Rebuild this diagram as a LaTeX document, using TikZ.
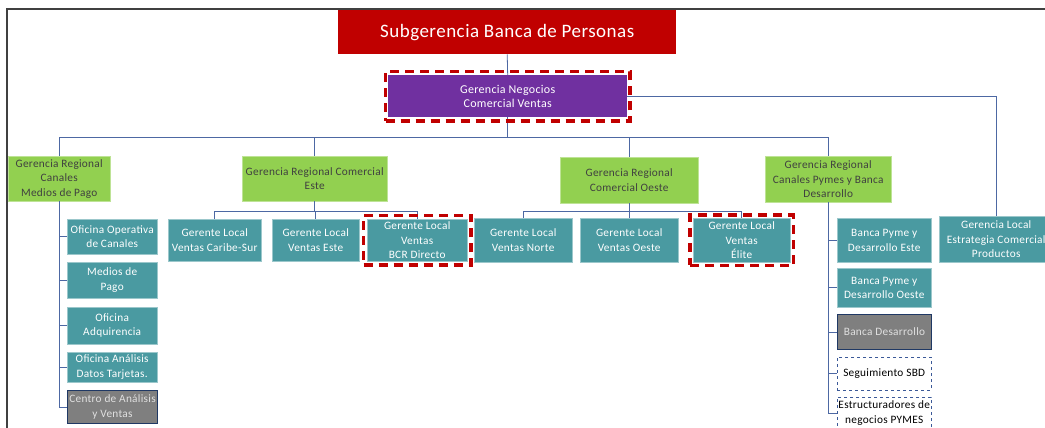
\documentclass[tikz,border=0pt]{standalone}
\usepackage{fontspec}
\setmainfont{Carlito}[LetterSpace=2.5]
\usetikzlibrary{positioning, fit}
\definecolor{bcrred}{HTML}{C00000}
\definecolor{bcrpurple}{HTML}{7030A0}
\definecolor{bcrgreen}{HTML}{92D050}
\definecolor{bcrteal}{HTML}{4A9AA1}
\definecolor{bcrgrey}{HTML}{7F7F7F}
\definecolor{bcrnavy}{HTML}{1F3864}
\definecolor{bcrblue}{HTML}{3B5998}
\definecolor{bcrline}{HTML}{4D68A3}
\definecolor{bcrtext}{HTML}{404040}

\begin{document}
\begin{tikzpicture}[x=1pt,y=-1pt]
\tikzset{
box/.style={rectangle, inner sep=0pt, anchor=north west, align=center, font=\fontsize{11.3}{14.5}\selectfont}, % base style of every box
boxsize/.style 2 args={minimum width=#1pt, minimum height=#2pt}, % width and height in px
titlebox/.style={box, fill=bcrred, text=white, font=\fontsize{19}{22}\selectfont},
headbox/.style={box, fill=bcrpurple, text=white, font=\fontsize{12}{14.5}\selectfont},
regbox/.style={box, fill=bcrgreen, draw=bcrgreen!60!white, text=bcrtext}, % regional managers
localbox/.style={box, fill=bcrteal, draw=bcrteal!55!white, text=white}, % local managers and offices
greybox/.style={box, fill=bcrgrey, draw=bcrnavy, line width=1pt, text=white!88!black},
openbox/.style={box, fill=white, draw=bcrblue, dashed, text=black},
hilite/.style={draw=bcrred, line width=3.5pt, dash pattern=on 9pt off 6pt, inner sep=0pt}, % red dashed frame
conn/.style={draw=bcrline, line width=0.8pt},
frame/.style={draw=black!75, line width=1.2pt},
}
\useasboundingbox (0,0) rectangle (1045,428);
\draw[frame] (7,428) -- (7,9) -- (1045,9);

% top
\node[titlebox, boxsize={338}{44}] (subg) at (338,10) {Subgerencia Banca de Personas};
\node[headbox, boxsize={239}{42}] (gnc) at (388,75) {Gerencia Negocios\\Comercial Ventas};

% regional level
\node[regbox, boxsize={102}{45}] (g1) at (8,156) {Gerencia Regional\\Canales\\Medios de Pago};
\node[regbox, boxsize={145}{45}] (g2) at (242,156) {Gerencia Regional Comercial\\Este};
\node[regbox, boxsize={138}{46}] (g3) at (560,157) {Gerencia Regional\\Comercial Oeste};
\node[regbox, boxsize={126}{46}] (g4) at (765,156) {Gerencia Regional\\Canales Pymes y Banca\\Desarrollo};
\node[localbox, boxsize={114}{46}] (estr) at (939,216) {Gerencia Local\\Estrategia Comercial\\Productos};

% canales medios de pago
\node[localbox, boxsize={90}{35}] (ofop) at (67,219) {Oficina Operativa\\de Canales};
\node[localbox, boxsize={90}{36}] (mpago) at (67,262) {Medios de\\Pago};
\node[localbox, boxsize={90}{37}] (adq) at (67,307) {Oficina\\Adquirencia};
\node[localbox, boxsize={90}{30}] (datos) at (67,352) {Oficina Análisis\\Datos Tarjetas.};
\node[greybox, boxsize={90}{33}] (centro) at (67,390) {Centro de Análisis\\y Ventas};

% comercial este
\node[localbox, boxsize={93}{42}] (t1) at (168,219) {Gerente Local\\Ventas Caribe-Sur};
\node[localbox, boxsize={87}{42}] (t2) at (272,219) {Gerente Local\\Ventas Este};
\node[localbox, boxsize={100}{42}] (t3) at (367,219) {Gerente Local\\Ventas\\BCR Directo};

% comercial oeste
\node[localbox, boxsize={98}{44}] (t4) at (474,218) {Gerente Local\\Ventas Norte};
\node[localbox, boxsize={98}{44}] (t5) at (580,218) {Gerente Local\\Ventas Oeste};
\node[localbox, boxsize={97}{44}] (t6) at (693,218) {Gerente Local\\Ventas\\Élite};

% pymes y banca desarrollo
\node[localbox, boxsize={94}{44}] (bpe) at (837,218) {Banca Pyme y\\Desarrollo Este};
\node[localbox, boxsize={94}{39}] (bpo) at (837,268) {Banca Pyme y\\Desarrollo Oeste};
\node[greybox, boxsize={94}{35}] (bdes) at (837,314) {Banca Desarrollo};
\node[openbox, boxsize={94}{33}] (seg) at (837,357) {Seguimiento SBD};
\node[openbox, boxsize={94}{32}] (estruc) at (837,397) {Estructuradores de\\negocios PYMES};

% connectors
\draw[conn] (subg.south) -- (gnc.north);
\draw[conn] (gnc.south) -- ++(0,20) coordinate (bus);
\foreach \g in {g1,g2,g3,g4}
	\draw[conn] (bus) -| (\g.north);
\draw[conn] (gnc.east) -| (estr.north);
\draw[conn] (g2.south) -- ++(0,10) coordinate (bus2);
\foreach \t in {t1,t2,t3}
	\draw[conn] (bus2) -| (\t.north);
\draw[conn] (g3.south) -- ++(0,8) coordinate (bus3);
\foreach \t in {t4,t5,t6}
	\draw[conn] (bus3) -| (\t.north);
\foreach \c in {ofop,mpago,adq,datos,centro}
	\draw[conn] (g1.south) |- (\c.west);
\foreach \c in {bpe,bpo,bdes,seg,estruc}
	\draw[conn] (g4.south) |- (\c.west);

% highlighted units
\node[hilite, fit=(gnc), inner xsep=2.5pt, inner ysep=3.5pt] (hgnc) {};
\node[hilite, fit=(t3), inner sep=3.5pt] (ht3) {};
\node[hilite, fit=(t6), inner sep=3pt] (ht6) {};
\end{tikzpicture}
\end{document}
